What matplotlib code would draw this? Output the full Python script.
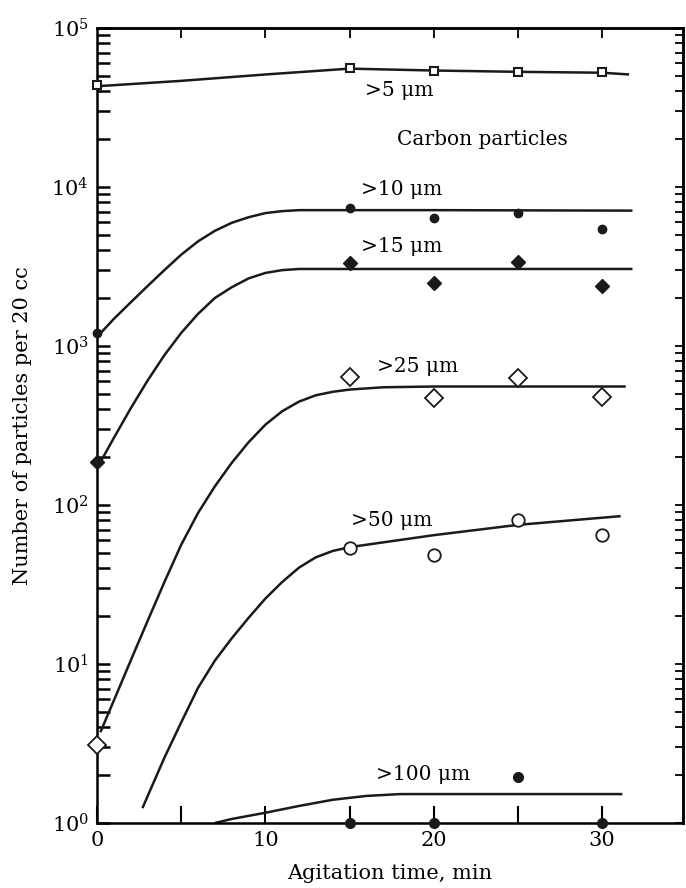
import matplotlib
matplotlib.use('Agg')
import matplotlib.pyplot as plt
from matplotlib.ticker import FixedLocator, FixedFormatter, LogLocator, NullFormatter

plt.rcParams['font.family'] = 'DejaVu Serif'
plt.rcParams['mathtext.fontset'] = 'dejavuserif'

# measured points (agitation time, min / particles per 20 cc)
t_all = [0, 15, 20, 25, 30]
t_late = [15, 20, 25, 30]
pts_5 = [43500, 56000, 53800, 52600, 52800]
pts_10 = [1200, 7400, 6400, 6850, 5450]
pts_15 = [186, 3330, 2500, 3390, 2390]
pts_25 = [3.1, 640, 470, 630, 480]
pts_50 = [54, 48.5, 80, 65]
pts_100 = [1.0, 1.0, 1.95, 1.0]

# fitted curves
c5_x = [0, 5, 10, 15, 20, 25, 30, 31.6]
c5_y = [43000, 46500, 51000, 55500, 54000, 53000, 52300, 51000]
c10_x = [0.2, 1, 2, 3, 4, 5, 6, 7, 8, 9, 10, 11, 12, 20, 31.8]
c10_y = [1200, 1480, 1880, 2380, 3000, 3750, 4550, 5300, 5950, 6450, 6850, 7050, 7150, 7150, 7100]
c15_x = [0.2, 1, 2, 3, 4, 5, 6, 7, 8, 9, 10, 11, 12, 20, 31.8]
c15_y = [186, 264, 405, 605, 875, 1208, 1592, 2004, 2340, 2660, 2880, 3000, 3050, 3050, 3050]
c25_x = [0.2, 1, 2, 3, 4, 5, 6, 7, 8, 9, 10, 11, 12, 13, 14, 15, 17, 20, 31.4]
c25_y = [3.72, 5.89, 10.5, 18.6, 32.7, 56.2, 89.1, 131, 184, 248, 320, 389, 447, 490, 515, 532, 550, 556, 556]
c50_x = [2.7, 3, 4, 5, 6, 7, 8, 9, 10, 11, 12, 13, 14, 15, 20, 25, 31.1]
c50_y = [1.24, 1.47, 2.57, 4.29, 7.08, 10.5, 14.5, 19.5, 25.8, 32.8, 40.4, 46.9, 51.4, 54.3, 64.6, 75, 85.1]
c100_x = [7, 8, 10, 12, 14, 16, 18, 31.2]
c100_y = [1.0, 1.06, 1.16, 1.28, 1.40, 1.48, 1.52, 1.52]

fig = plt.figure(figsize=(6.86, 8.88), dpi=100)
ax = fig.add_axes([0.1414, 0.0732, 0.8542, 0.8953])
ax.set_yscale('log')
ax.set_xlim(0, 34.8)
ax.set_ylim(1, 1e5)

lw = 1.8
for cx, cy in [(c5_x, c5_y), (c10_x, c10_y), (c15_x, c15_y),
               (c25_x, c25_y), (c50_x, c50_y), (c100_x, c100_y)]:
    ax.plot(cx, cy, color='#1a1a1a', lw=lw, solid_capstyle='butt')

ax.plot(t_all, pts_5, 's', ms=6, mfc='white', mec='#1a1a1a', mew=1.5, clip_on=False, zorder=5)
ax.plot(t_all, pts_10, 'o', ms=6, color='#1a1a1a', clip_on=False, zorder=5)
ax.plot(t_all, pts_15, 'D', ms=7, color='#1a1a1a', clip_on=False, zorder=5)
ax.plot(t_all, pts_25, 'D', ms=9, mfc='white', mec='#1a1a1a', mew=1.3, clip_on=False, zorder=5)
ax.plot(t_late, pts_50, 'o', ms=9, mfc='white', mec='#1a1a1a', mew=1.3, clip_on=False, zorder=5)
ax.plot(t_late, pts_100, 'o', ms=7, color='#1a1a1a', clip_on=False, zorder=5)

fs = 15
afs = 14.5
ax.text(15.9, 10**4.572, '>5 μm', fontsize=afs)
ax.text(17.8, 10**4.264, 'Carbon particles', fontsize=afs)
ax.text(15.67, 10**3.95, '>10 μm', fontsize=afs)
ax.text(15.67, 10**3.591, '>15 μm', fontsize=afs)
ax.text(16.6, 10**2.836, '>25 μm', fontsize=afs)
ax.text(15.07, 10**1.87, '>50 μm', fontsize=afs)
ax.text(16.55, 10**0.27, '>100 μm', fontsize=afs)

# ticks
ax.xaxis.set_major_locator(FixedLocator([0, 10, 20, 30]))
ax.xaxis.set_minor_locator(FixedLocator([5, 15, 25]))
ax.tick_params(axis='x', which='both', direction='in', length=12, width=1.5,
               labelsize=fs, pad=6)
ax.yaxis.set_major_locator(FixedLocator([1, 10, 100, 1e3, 1e4, 1e5]))
ax.yaxis.set_major_formatter(FixedFormatter([r'$10^{%d}$' % i for i in range(0, 6)]))
ax.yaxis.set_minor_locator(LogLocator(base=10, subs=range(2, 10), numticks=10))
ax.yaxis.set_minor_formatter(NullFormatter())
ax.tick_params(axis='y', which='both', direction='in', length=9, width=1.8,
               labelsize=fs, pad=6)

top = ax.secondary_xaxis('top')
top.set_xticks([5, 10, 15, 20, 25, 30])
top.tick_params(direction='in', length=7, width=1.3, labeltop=False)
right = ax.secondary_yaxis('right')
right.yaxis.set_major_locator(FixedLocator([1, 10, 100, 1e3, 1e4, 1e5]))
right.yaxis.set_minor_locator(LogLocator(base=10, subs=range(2, 10), numticks=10))
right.tick_params(which='both', direction='in', length=6, width=1.3,
                  labelright=False)
right.yaxis.set_minor_formatter(NullFormatter())

for sp in ax.spines.values():
    sp.set_linewidth(1.8)
top.spines['top'].set_linewidth(1.8)
right.spines['right'].set_linewidth(1.8)

ax.set_xlabel('Agitation time, min', fontsize=fs, labelpad=10)
ax.set_ylabel('Number of particles per 20 cc', fontsize=fs, labelpad=14)

fig.savefig('out.png', dpi=100)
